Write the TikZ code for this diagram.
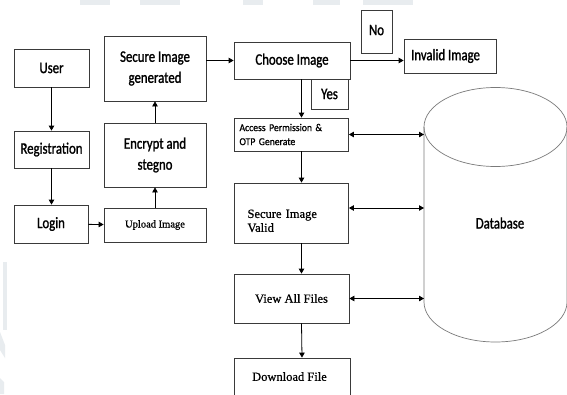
\documentclass[tikz,border=0pt]{standalone}
\usepackage{fontspec}
\usetikzlibrary{arrows.meta}
\newfontfamily\cb[FakeStretch=0.8,FakeBold=1.3]{Carlito}
\newfontfamily\cbn[FakeStretch=0.92,FakeBold=1]{Carlito}
\newfontfamily\tms[FakeBold=0.6]{Liberation Serif}
\definecolor{boxline}{HTML}{3A3A3A}
\definecolor{cylline}{HTML}{7A7A7A}
\definecolor{wmark}{HTML}{E8ECEF}
\tikzset{
  boxnode/.style={draw=boxline, line width=0.8pt, inner sep=0pt, align=center},
  cbtext/.style={font=\cb\fontsize{16}{21}\selectfont},
  tmtext/.style={font=\tms\fontsize{12.5}{14}\selectfont},
  arr/.style={draw=black, line width=0.8pt, -{Triangle[length=5pt,width=5.5pt]}},
  darr/.style={draw=black, line width=0.8pt, {Triangle[length=5pt,width=5.5pt]}-{Triangle[length=5pt,width=5.5pt]}},
}
\begin{document}
\begin{tikzpicture}[x=1pt,y=-1pt]
\useasboundingbox (0,0) rectangle (567,394);
\fill[white] (0,0) rectangle (567,394);
% faint watermark
\fill[wmark] (80,0) rectangle (110,5);
\fill[wmark] (140,0) rectangle (180,5);
\fill[wmark] (243,0) rectangle (263,5);
\fill[wmark] (313,0) rectangle (340,5);
\fill[wmark] (363,0) rectangle (413,5);
\fill[wmark] (3,262) -- (7,262) -- (7,330) -- (3,330) -- cycle;
\fill[wmark] (0,332) -- (5,345) -- (5,358) -- (0,350) -- cycle;
\fill[wmark] (0,378) -- (4,382) -- (4,394) -- (0,394) -- cycle;

% left column
\node[boxnode, cbtext, minimum width=75, minimum height=38] (user) at (51.5,68) {User};
\node[boxnode, cbtext, minimum width=75, minimum height=37] (reg) at (51.5,149.5) {Registration};
\node[boxnode, cbtext, minimum width=74, minimum height=38] (login) at (51,224) {Login};

% middle column
\node[boxnode, cbtext, minimum width=102, minimum height=65] (sig) at (155,68.5) {Secure Image\\generated};
\node[boxnode, cbtext, minimum width=102, minimum height=64] (enc) at (155,155) {Encrypt and\\stegno};
\node[boxnode, font=\tms\fontsize{10.5}{12}\selectfont, minimum width=102, minimum height=34] (upl) at (155,225) {Upload Image};

% right column
\node[boxnode, cbtext, minimum width=116, minimum height=37] (choose) at (292,60.5) {Choose Image};
\node[boxnode, cbtext, minimum width=31, minimum height=43] (no) at (376.5,31.5) {\raisebox{3pt}{No}};
\node[boxnode, cbtext, minimum width=92, minimum height=34] (inv) at (450,56) {\hspace*{-9pt}Invalid Image};
\node[boxnode, cbtext, minimum width=37, minimum height=30] (yes) at (329.5,94) {Yes};
\node[boxnode, font=\cbn\fontsize{10.5}{14}\selectfont, align=left, text width=104pt, inner xsep=5pt, minimum height=33] (acc) at (291.5,134.5) {Access Permission \&\\OTP Generate};
\node[boxnode, tmtext, align=left, text width=88pt, inner xsep=13pt, minimum height=60, text height=24pt] (siv) at (291.5,213) {Secure Image\\Valid};
\node[boxnode, tmtext, minimum width=115, minimum height=49] (vaf) at (291.5,298.5) {View All Files};
\node[boxnode, tmtext, minimum width=116, minimum height=40] (dl) at (292,378) {\hspace*{-5pt}\raisebox{3pt}{Download File}};

% database cylinder
\coordinate (dbw) at (424,127);
\draw[cylline, line width=0.7pt] (495.5,127) ellipse [x radius=71.5pt, y radius=39.5pt];
\draw[cylline, line width=0.7pt] (424,127) -- (424,302) arc[start angle=180, end angle=360, x radius=71.5pt, y radius=40pt] -- (567,127);
\node[font=\cb\fontsize{16}{21}\selectfont] (db) at (500,223) {Database};

% connectors
\draw[arr] (user) -- (reg);
\draw[arr] (reg) -- (reg |- login.north);
\draw[arr] (login) -- (upl);
\draw[arr] (upl) -- (enc);
\draw[arr] (enc) -- (sig);
\draw[arr] (sig.east |- choose.west) -- (choose.west);
\draw[arr] (choose.east) -- (choose.east -| inv.west);
\draw[arr] ([xshift=9.5pt]choose.south) -- ([xshift=10pt]acc.north);
\draw[arr] ([xshift=10pt]acc.south) -- ([xshift=10pt]siv.north);
\draw[arr] ([xshift=10pt]siv.south) -- ([xshift=10pt]vaf.north);
\draw[arr] ([xshift=10pt]vaf.south) -- ([xshift=10pt]dl.north);
\draw[darr] (acc.east) -- (acc.east -| dbw);
\draw[darr] ([yshift=5pt]siv.east) -- ([yshift=5pt]siv.east -| dbw);
\draw[darr] (vaf.east) -- (vaf.east -| dbw);
\end{tikzpicture}
\end{document}
